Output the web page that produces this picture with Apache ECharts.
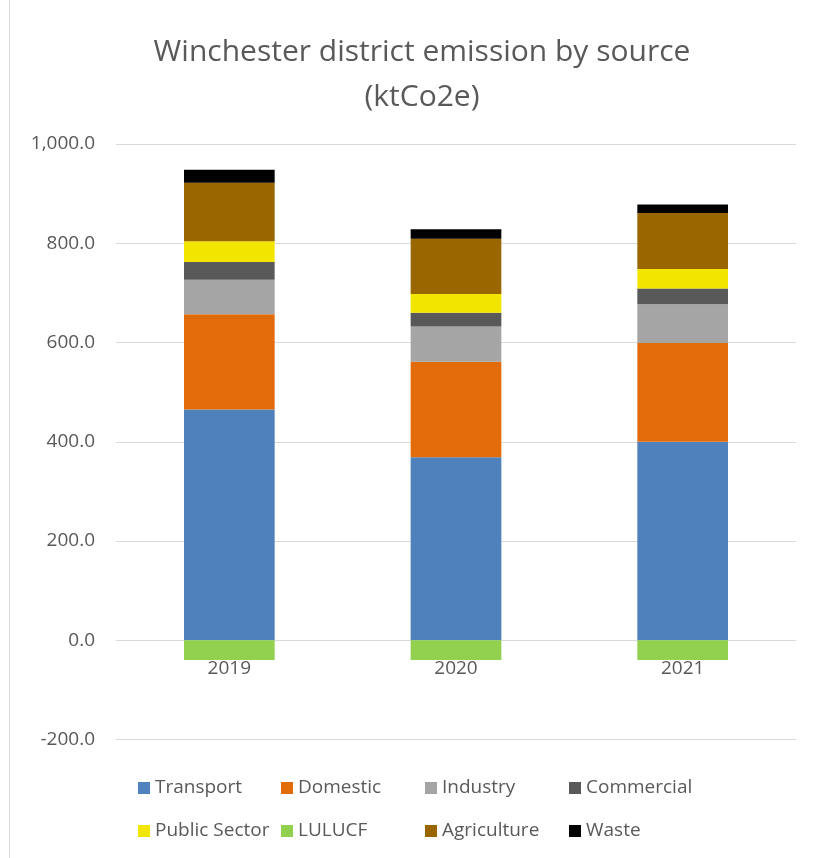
<!DOCTYPE html>
<html>
<head>
<meta charset="utf-8">
<script src="https://cdn.jsdelivr.net/npm/echarts@6/dist/echarts.min.js"></script>
<style>
  html, body { margin: 0; padding: 0; background: #fff; }
  #chart { width: 814px; height: 858px; }
</style>
</head>
<body>
<div id="chart"></div>
<script>
// data (ktCO2e)
const years = ['2019', '2020', '2021']
const transport = [465, 369, 400]
const domestic = [192, 192, 199]
const industry = [69.5, 71, 78]
const commercial = [35.5, 28, 32]
const publicSector = [42, 37.5, 39]
const lulucf = [-40, -40, -40]
const agriculture = [118, 111.5, 113]
const waste = [26, 19, 17]

const seriesNames = ['Transport', 'Domestic', 'Industry', 'Commercial', 'Public Sector', 'LULUCF', 'Agriculture', 'Waste']
const seriesData = [transport, domestic, industry, commercial, publicSector, lulucf, agriculture, waste]
const colors = ['#4f81bd', '#e36c0a', '#a5a5a5', '#595959', '#f2e600', '#92d050', '#996600', '#000000']

const FONT = '"Open Sans", "Liberation Sans", sans-serif'
const TEXT = '#595959'

// legend is laid out Excel-style in a 4 x 2 grid
const legendCols = [138, 281, 425, 569]
const legendRows = [778.5, 821.5]
const legends = seriesNames.map((name, i) => ({
  data: [name],
  left: legendCols[i % 4],
  top: legendRows[Math.floor(i / 4)],
  padding: 0,
  itemWidth: 12,
  itemHeight: 12,
  icon: 'rect',
  selectedMode: false,
  textStyle: { fontFamily: FONT, fontSize: 19, color: TEXT }
}))

const chart = echarts.init(document.getElementById('chart'))
chart.setOption({
  animation: false,
  color: colors,
  title: {
    text: 'Winchester district emission by source\n(ktCo2e)',
    left: 417,
    textAlign: 'center',
    top: 25,
    textStyle: { fontFamily: FONT, fontSize: 30, fontWeight: 'normal', color: TEXT, lineHeight: 45 }
  },
  legend: legends,
  grid: { left: 116, right: 18, top: 144, bottom: 118.5 },
  xAxis: {
    type: 'category',
    data: years,
    // category axis sits on the zero line, like Excel
    offset: -99.5,
    axisLine: { onZero: false, lineStyle: { color: '#d9d9d9' } },
    axisTick: { show: false },
    axisLabel: { fontFamily: FONT, fontSize: 19, color: TEXT, margin: 19 }
  },
  yAxis: {
    type: 'value',
    min: -200,
    max: 1000,
    interval: 200,
    axisLine: { show: false },
    axisTick: { show: false },
    splitLine: { lineStyle: { color: '#d9d9d9', width: 1 } },
    axisLabel: {
      fontFamily: FONT,
      fontSize: 19,
      color: TEXT,
      margin: 21,
      formatter: v => v.toLocaleString('en-US', { minimumFractionDigits: 1, maximumFractionDigits: 1 })
    }
  },
  series: seriesNames.map((name, i) => ({
    name,
    type: 'bar',
    stack: 'total',
    barWidth: '40%',
    data: seriesData[i],
    itemStyle: { color: colors[i] }
  })),
  graphic: [{
    type: 'line',
    shape: { x1: 9.5, y1: 0, x2: 9.5, y2: 858 },
    style: { stroke: '#d9d9d9', lineWidth: 1 }
  }]
})
</script>
</body>
</html>
